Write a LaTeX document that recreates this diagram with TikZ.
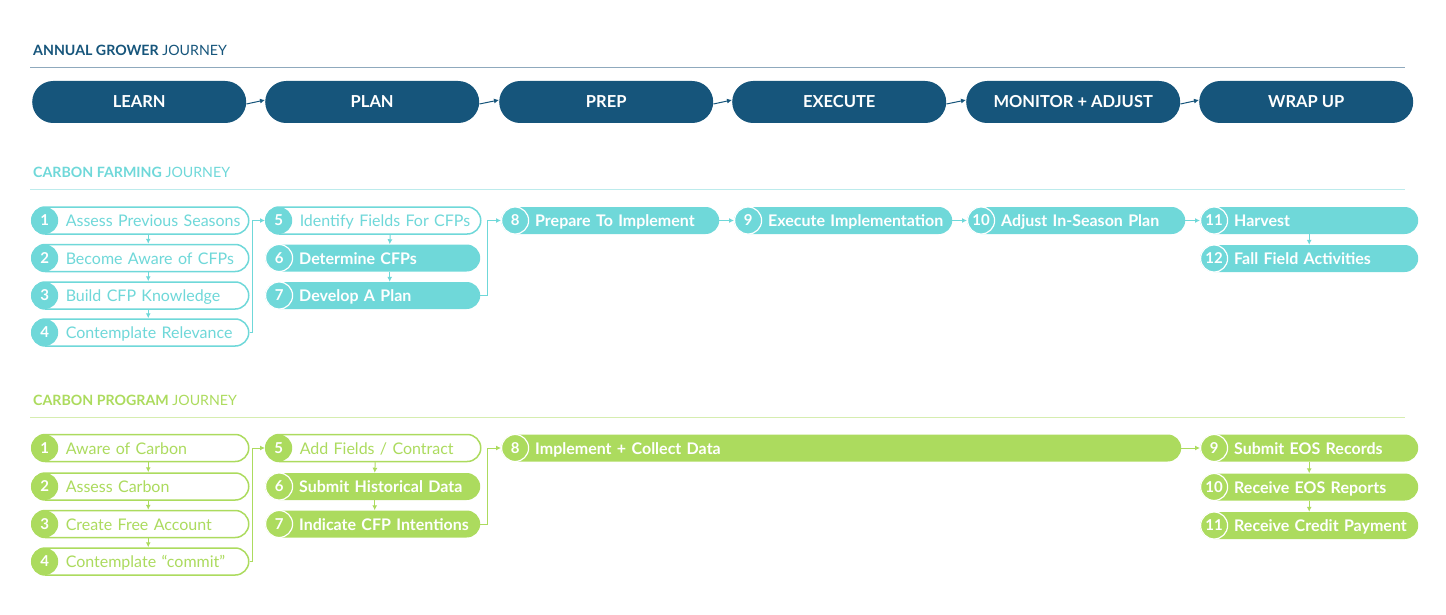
\documentclass[tikz,border=0pt]{standalone}
\usepackage{fontspec}
\setmainfont{Lato}
\usetikzlibrary{arrows.meta}
\definecolor{growerblue}{RGB}{22,85,123}
\definecolor{farmteal}{RGB}{111,216,217}
\definecolor{progreen}{RGB}{172,219,94}
\definecolor{growrule}{RGB}{143,169,189}
\definecolor{farmrule}{RGB}{188,235,236}
\definecolor{progrule}{RGB}{214,237,176}
\begin{document}
\begin{tikzpicture}[x=1pt,y=-1pt,
  head/.style={anchor=west,inner sep=0pt,text=#1,font=\fontsize{14.2}{16}\selectfont},
  phase/.style={anchor=west,fill=growerblue,rounded corners=21pt,minimum width=214pt,minimum height=42pt,inner sep=0pt,text=white,font=\fontsize{16.5}{18}\selectfont\bfseries},
  pill/.style={anchor=west,rounded corners=13.5pt,minimum height=27pt,inner xsep=0pt,inner ysep=0pt,text width=#1,text height=14pt,text depth=2pt,align=left,execute at begin node={\hspace*{34pt}}},
  stepout/.style={pill=#1,draw=farmteal,line width=1.5pt,fill=white,text=farmteal,font=\fontsize{16}{17}\selectfont},
  stepfill/.style={pill=#1,fill=farmteal,text=white,font=\fontsize{16}{17}\selectfont\bfseries},
  progout/.style={stepout=#1,draw=progreen,text=progreen},
  progfill/.style={stepfill=#1,fill=progreen},
  num/.style={anchor=west,circle,minimum size=27pt,inner sep=0pt,text=white,font=\fontsize{15}{15}\selectfont\bfseries},
  numout/.style={num,fill=#1},
  numfill/.style={num,fill=#1,draw=white,line width=1.2pt},
  conn/.style={draw=#1,line width=1pt,-{Latex[length=5pt,width=5pt]}},
  hrule/.style={draw=#1,line width=1pt}]
  \useasboundingbox (0,0) rectangle (1446,615);

  % annual grower journey
  \node[head=growerblue] (hgrow) at (33,50) {\textbf{ANNUAL GROWER} JOURNEY};
  \draw[hrule=growrule] (30,68) -- (1405,68);
  \node[phase] (learn) at (32,102) {LEARN};
  \node[phase] (plan) at (265,102) {PLAN};
  \node[phase] (prep) at (499,102) {PREP};
  \node[phase] (execute) at (732,102) {EXECUTE};
  \node[phase] (monitor) at (966,102) {MONITOR + ADJUST};
  \node[phase] (wrap) at (1199,102) {WRAP UP};
  \draw[conn=growerblue] ([yshift=-2pt]learn.east) -- ([yshift=2pt]plan.west);
  \draw[conn=growerblue] ([yshift=-2pt]plan.east) -- ([yshift=2pt]prep.west);
  \draw[conn=growerblue] ([yshift=-2pt]prep.east) -- ([yshift=2pt]execute.west);
  \draw[conn=growerblue] ([yshift=-2pt]execute.east) -- ([yshift=2pt]monitor.west);
  \draw[conn=growerblue] ([yshift=-2pt]monitor.east) -- ([yshift=2pt]wrap.west);

  % carbon farming journey
  \node[head=farmteal] (hfarm) at (33,172) {\textbf{CARBON FARMING} JOURNEY};
  \draw[hrule=farmrule] (30,189) -- (1405,189);
  \node[stepout=217pt] (f1) at (31,220.5) {Assess Previous Seasons};
  \node[stepout=217pt] (f2) at (31,258) {Become Aware of CFPs};
  \node[stepout=217pt] (f3) at (31,295.5) {Build CFP Knowledge};
  \node[stepout=217pt] (f4) at (31,332.5) {Contemplate Relevance};
  \node[stepout=215pt] (f5) at (265,220.5) {Identify Fields For CFPs};
  \node[stepfill=215pt] (f6) at (265,258) {Determine CFPs};
  \node[stepfill=215pt] (f7) at (265,295.5) {Develop A Plan};
  \node[stepfill=218pt] (f8) at (501,220.5) {Prepare To Implement};
  \node[stepfill=218pt] (f9) at (734,220.5) {Execute Implementation};
  \node[stepfill=218pt] (f10) at (967,220.5) {Adjust In-Season Plan};
  \node[stepfill=218pt] (f11) at (1200,220.5) {Harvest};
  \node[stepfill=218pt] (f12) at (1200,258.5) {Fall Field Activities};
  \node[numout=farmteal] (f1n) at (f1.west) {1};
  \node[numout=farmteal] (f2n) at (f2.west) {2};
  \node[numout=farmteal] (f3n) at (f3.west) {3};
  \node[numout=farmteal] (f4n) at (f4.west) {4};
  \node[numout=farmteal] (f5n) at (f5.west) {5};
  \node[numfill=farmteal] (f6n) at (f6.west) {6};
  \node[numfill=farmteal] (f7n) at (f7.west) {7};
  \node[numfill=farmteal] (f8n) at (f8.west) {8};
  \node[numfill=farmteal] (f9n) at (f9.west) {9};
  \node[numfill=farmteal] (f10n) at (f10.west) {10};
  \node[numfill=farmteal] (f11n) at (f11.west) {11};
  \node[numfill=farmteal] (f12n) at (f12.west) {12};
  \draw[conn=farmteal] ([xshift=8pt]f1.south) -- ([xshift=8pt]f2.north);
  \draw[conn=farmteal] ([xshift=8pt]f2.south) -- ([xshift=8pt]f3.north);
  \draw[conn=farmteal] ([xshift=8pt]f3.south) -- ([xshift=8pt]f4.north);
  \draw[conn=farmteal] (f4.east) -- ++(3,0) |- (f5n.west);
  \draw[conn=farmteal] ([xshift=17pt]f5.south) -- ([xshift=17pt]f6.north);
  \draw[conn=farmteal] ([xshift=17pt]f6.south) -- ([xshift=17pt]f7.north);
  \draw[conn=farmteal] (f7.east) -- ++(7,0) |- (f8n.west);
  \draw[conn=farmteal] (f8.east) -- (f9n.west);
  \draw[conn=farmteal] (f9.east) -- (f10n.west);
  \draw[conn=farmteal] (f10.east) -- (f11n.west);
  \draw[conn=farmteal] (f11.south) -- (f12.north);

  % carbon program journey
  \node[head=progreen] (hprog) at (33,400) {\textbf{CARBON PROGRAM} JOURNEY};
  \draw[hrule=progrule] (30,417) -- (1405,417);
  \node[progout=217pt] (p1) at (31,448) {Aware of Carbon};
  \node[progout=217pt] (p2) at (31,486.5) {Assess Carbon};
  \node[progout=217pt] (p3) at (31,524) {Create Free Account};
  \node[progout=217pt] (p4) at (31,561.5) {Contemplate “commit”};
  \node[progout=215pt] (p5) at (265,448) {Add Fields / Contract};
  \node[progfill=215pt] (p6) at (265,486.5) {Submit Historical Data};
  \node[progfill=215pt] (p7) at (265,524) {Indicate CFP Intentions};
  \node[progfill=680pt] (p8) at (501,448) {Implement + Collect Data};
  \node[progfill=218pt] (p9) at (1200,448) {Submit EOS Records};
  \node[progfill=218pt] (p10) at (1200,487) {Receive EOS Reports};
  \node[progfill=218pt] (p11) at (1200,525.5) {Receive Credit Payment};
  \node[numout=progreen] (p1n) at (p1.west) {1};
  \node[numout=progreen] (p2n) at (p2.west) {2};
  \node[numout=progreen] (p3n) at (p3.west) {3};
  \node[numout=progreen] (p4n) at (p4.west) {4};
  \node[numout=progreen] (p5n) at (p5.west) {5};
  \node[numfill=progreen] (p6n) at (p6.west) {6};
  \node[numfill=progreen] (p7n) at (p7.west) {7};
  \node[numfill=progreen] (p8n) at (p8.west) {8};
  \node[numfill=progreen] (p9n) at (p9.west) {9};
  \node[numfill=progreen] (p10n) at (p10.west) {10};
  \node[numfill=progreen] (p11n) at (p11.west) {11};
  \draw[conn=progreen] ([xshift=8pt]p1.south) -- ([xshift=8pt]p2.north);
  \draw[conn=progreen] ([xshift=8pt]p2.south) -- ([xshift=8pt]p3.north);
  \draw[conn=progreen] ([xshift=8pt]p3.south) -- ([xshift=8pt]p4.north);
  \draw[conn=progreen] (p4.east) -- ++(3,0) |- (p5n.west);
  \draw[conn=progreen] ([xshift=2pt]p5.south) -- ([xshift=2pt]p6.north);
  \draw[conn=progreen] ([xshift=2pt]p6.south) -- ([xshift=2pt]p7.north);
  \draw[conn=progreen] (p7.east) -- ++(7,0) |- (p8n.west);
  \draw[conn=progreen] (p8.east) -- (p9n.west);
  \draw[conn=progreen] (p9.south) -- (p10.north);
  \draw[conn=progreen] (p10.south) -- (p11.north);
\end{tikzpicture}
\end{document}
